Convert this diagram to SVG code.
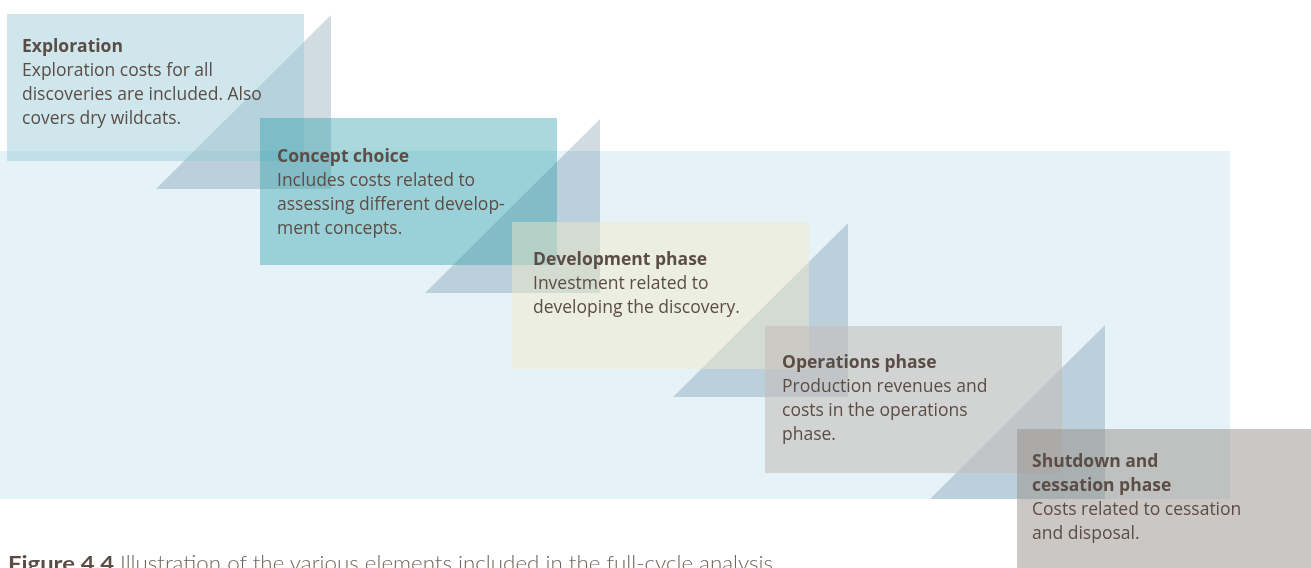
<svg xmlns="http://www.w3.org/2000/svg" width="1311" height="568" viewBox="0 0 1311 568">
<style>
.tri{fill:#d1dbe2;mix-blend-mode:multiply}
.t{font-family:"Open Sans","Noto Sans","Liberation Sans",sans-serif;font-size:17.5px;fill:#5b4d46}
.b{font-weight:bold}
.cap{font-family:"Lato","Open Sans","Liberation Sans",sans-serif;font-size:21px}
</style>
<rect width="1311" height="568" fill="#ffffff"/>
<rect id="background" x="0" y="151" width="1230" height="348" fill="#e5f2f7"/>
<g id="connectors"></g>
<g id="exploration">
<polygon class="tri" points="331,15 331,189 156,189"/>
<rect x="7" y="14" width="297" height="147" fill="rgb(145,198,214)" fill-opacity="0.44"/>
<text class="t" x="22"><tspan class="b" y="52">Exploration</tspan><tspan x="22" y="76">Exploration costs for all</tspan><tspan x="22" y="100">discoveries are included. Also</tspan><tspan x="22" y="124">covers dry wildcats.</tspan></text>
</g>
<g id="concept-choice">
<polygon class="tri" points="600,119 600,293 425,293"/>
<rect x="260" y="118" width="297" height="147" fill="rgb(42,157,170)" fill-opacity="0.4"/>
<text class="t" x="277"><tspan class="b" y="162">Concept choice</tspan><tspan x="277" y="186">Includes costs related to</tspan><tspan x="277" y="210">assessing different develop-</tspan><tspan x="277" y="234">ment concepts.</tspan></text>
</g>
<g id="development-phase">
<polygon class="tri" points="848,223 848,397 673,397"/>
<rect x="512" y="222" width="297" height="147" fill="rgb(244,233,198)" fill-opacity="0.45"/>
<text class="t" x="533"><tspan class="b" y="265">Development phase</tspan><tspan x="533" y="289">Investment related to</tspan><tspan x="533" y="313">developing the discovery.</tspan></text>
</g>
<g id="operations-phase">
<polygon class="tri" points="1105,325 1105,499 930,499"/>
<rect x="765" y="326" width="297" height="147" fill="rgb(197,190,187)" fill-opacity="0.6"/>
<text class="t" x="782"><tspan class="b" y="368">Operations phase</tspan><tspan x="782" y="392">Production revenues and</tspan><tspan x="782" y="416">costs in the operations</tspan><tspan x="782" y="440">phase.</tspan></text>
</g>
<g id="shutdown-phase">
<rect x="1017" y="429" width="294" height="139" fill="rgb(151,143,137)" fill-opacity="0.5"/>
<text class="t" x="1032"><tspan class="b" y="467">Shutdown and</tspan><tspan class="b" x="1032" y="491">cessation phase</tspan><tspan x="1032" y="515">Costs related to cessation</tspan><tspan x="1032" y="539">and disposal.</tspan></text>
</g>
<g id="caption">
<text class="cap" x="8" y="571" font-weight="bold" fill="#5b4d46" textLength="106" lengthAdjust="spacingAndGlyphs">Figure 4.4</text>
<text class="cap" x="120" y="571" font-weight="300" fill="#6d655f" textLength="653" lengthAdjust="spacingAndGlyphs">Illustration of the various elements included in the full-cycle analysis</text>
</g>
</svg>
